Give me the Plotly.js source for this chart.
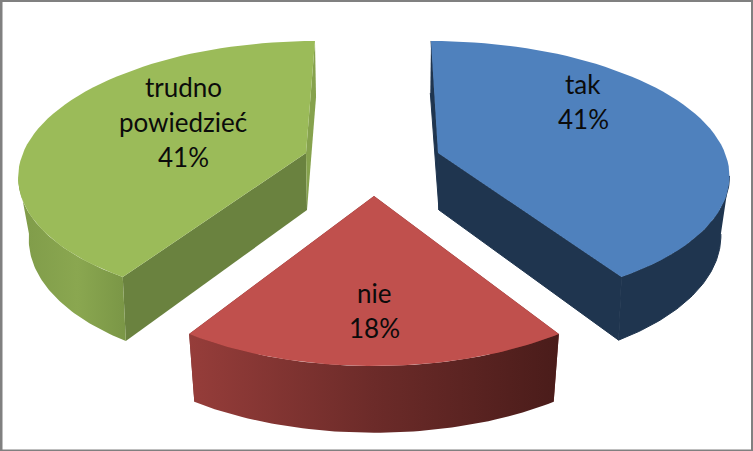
<!DOCTYPE html>
<html><head><meta charset="utf-8">
<script src="https://cdn.plot.ly/plotly-3.0.1.min.js"></script>
<style>html,body{margin:0;padding:0;background:#fff;overflow:hidden}#c{width:753px;height:451px}</style>
</head><body><div id="c"></div>
<script>
var categories = ["tak", "nie", "trudno powiedzieć"];
var values = [41, 18, 41];
var labelLines = [["tak"], ["nie"], ["trudno", "powiedzieć"]];

// Perspective view of each exploded slice: top face and bottom face
var topView = [
  {x:438, y:153, a:287, b:128.6, k:.148, s:-8},
  {x:374, y:196, a:285, b:135, k:.206, s:0},
  {x:306, y:153, a:283, b:128.6, k:.148, s:10.3}
];
var bottomView = [
  {x:439, y:210, a:277, b:134.6, k:.15, s:-10},
  {x:374, y:269, a:277, b:130, k:.206, s:0},
  {x:307, y:210, a:272, b:132.5, k:.173, s:10.6}
];
var topColors = ["#4F81BD", "#C0504D", "#9BBB59"];
var edgeColors = ["#1F354F", "#7A2E2C", "#6A823F"];
var backColors = ["#1F354F", "#7A2E2C", "#86A24D"];
var wallGradients = [
  null,
  [[0,"#963D3A"],[0.5,"#6C2B29"],[1,"#4A1C1A"]],
  [[0,"#7F9B49"],[0.55,"#8AA750"],[1,"#7A9646"]]
];
// Part of the outer wall that faces the viewer, in degrees past each slice's start
var wallFrom = [100, 147.6, 212.4];
var wallTo = [147.6, 212.4, 260];
var labelCenters = [[583, 84], [374, 293], [183, 87]];
var lineGap = 35;
var fontSize = 26;

function project(v, deg){
  var t = deg*Math.PI/180, X = Math.sin(t), Y = Math.cos(t), d = 1 + v.k*Y;
  return [v.x + (v.a*X + v.s*Y)/d, v.y - v.b*Y/d];
}
function arc(v, from, to){
  var out = [], n = 60;
  for (var i = 0; i <= n; i++) out.push(project(v, from + (to-from)*i/n));
  return out;
}
function poly(pts, color, grad, lw){
  var tr = {type:"scatter", mode:"lines", x:pts.map(function(p){return p[0]}), y:pts.map(function(p){return p[1]}),
    fill:"toself", line:{width:lw||0, color:color}, fillcolor:color, hoverinfo:"skip", showlegend:false};
  if (grad) tr.fillgradient = {type:"horizontal", colorscale:grad};
  return tr;
}
var total = values.reduce(function(a,b){return a+b}, 0);
var traces = [], annotations = [], start = 0;
values.forEach(function(val, i){
  var end = start + val/total*360, T = topView[i], B = bottomView[i];
  var Ta = [T.x, T.y], Ba = [B.x, B.y];
  var seam = wallGradients[i] ? 0 : 1;
  // straight cut walls
  traces.push(poly([project(T,start), Ta, Ba, project(B,start)], edgeColors[i], null, seam));
  traces.push(poly([project(T,end), Ta, Ba, project(B,end)], i===2?backColors[i]:edgeColors[i], null, seam));
  // outer wall
  var wt = arc(T, wallFrom[i], wallTo[i]), wb = arc(B, wallFrom[i], wallTo[i]).reverse();
  traces.push(poly(wt.concat(wb), edgeColors[i], wallGradients[i], seam));
  // top face
  traces.push(poly([Ta].concat(arc(T, start, end)).concat([Ta]), topColors[i]));
  // label
  var lines = labelLines[i].concat([val + "%"]);
  lines.forEach(function(s, j){
    annotations.push({x:labelCenters[i][0], y:labelCenters[i][1] - 0.5 + j*lineGap, text:s, showarrow:false,
      xanchor:"center", yanchor:"middle", font:{family:"Lato, sans-serif", size:fontSize, color:"#0b0b0b"}});
  });
  start = end;
});
var frame = "#808080";
var layout = {
  width:753, height:451, margin:{l:0,r:0,t:0,b:0}, paper_bgcolor:"#fff", plot_bgcolor:"#fff", showlegend:false,
  xaxis:{range:[0,753], visible:false, fixedrange:true},
  yaxis:{range:[451,0], visible:false, fixedrange:true},
  annotations:annotations,
  shapes:[
    {type:"rect", xref:"x", yref:"y", x0:0, x1:753, y0:0, y1:2, line:{width:0}, fillcolor:frame},
    {type:"rect", xref:"x", yref:"y", x0:0, x1:2.5, y0:0, y1:451, line:{width:0}, fillcolor:frame},
    {type:"rect", xref:"x", yref:"y", x0:751, x1:753, y0:0, y1:451, line:{width:0}, fillcolor:frame},
    {type:"rect", xref:"x", yref:"y", x0:0, x1:753, y0:449.5, y1:451, line:{width:0}, fillcolor:frame}
  ]
};
Plotly.newPlot("c", traces, layout, {displayModeBar:false, staticPlot:true});
</script></body></html>
